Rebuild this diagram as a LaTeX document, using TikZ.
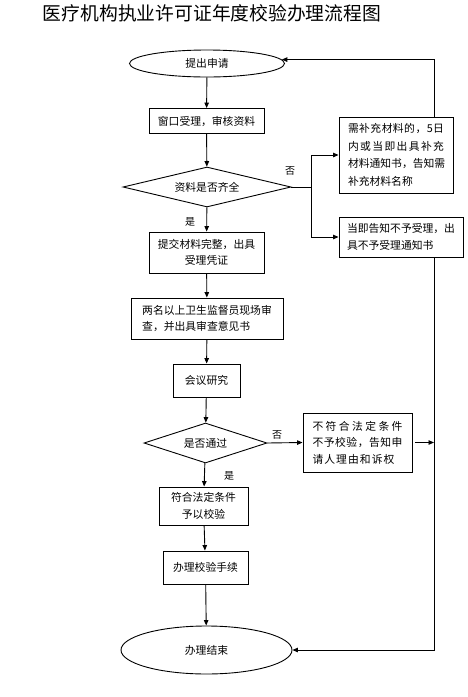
\documentclass[tikz,border=0pt]{standalone}
\usepackage{fontspec}
\setmainfont{Noto Sans CJK SC}
\usetikzlibrary{shapes.geometric,arrows.meta}
\newcommand\spreadline[2]{\makebox[#1][s]{\spreadfirst#2\relax}}
\def\spreadfirst#1{#1\spreadrest}
\def\spreadrest#1{\ifx#1\relax\else\hfil#1\expandafter\spreadrest\fi}
\begin{document}
\begin{tikzpicture}[x=1pt,y=-1pt,
  every node/.style={inner sep=0pt, font=\fontsize{10.8pt}{16.5pt}\selectfont},
  box/.style={draw, line width=0.9pt, rectangle},
  ell/.style={draw, line width=0.9pt, ellipse},
  dia/.style={draw, line width=0.9pt, diamond, aspect=3.5},
  lbl/.style={font=\fontsize{10pt}{10pt}\selectfont},
  link/.style={draw, line width=0.9pt},
  arr/.style={link, -{Triangle[length=5.5pt,width=4.5pt]}}
]
\useasboundingbox (0,0) rectangle (468,697);

\node[font=\fontsize{18.8pt}{19pt}\selectfont] (title) at (212,13) {医疗机构执业许可证年度校验办理流程图};

\node[ell, minimum width=155pt, minimum height=27pt] (start) at (207,63.5) {提出申请};
\node[box, minimum width=115pt, minimum height=25pt] (b1) at (206.5,121) {窗口受理，审核资料};
\node[dia, minimum width=168pt, minimum height=40pt] (d1) at (207,187) {资料是否齐全};
\node[box, minimum width=115pt, minimum height=41pt, align=center] (b2) at (206.5,252.5) {提交材料完整，出具\\受理凭证};
\node[box, minimum width=152pt, minimum height=41pt, align=left] (b3) at (207,318.5) {两名以上卫生监督员现场审\\查，并出具审查意见书};
\node[box, minimum width=67pt, minimum height=33pt] (b4) at (206.5,380.5) {会议研究};
\node[dia, minimum width=123pt, minimum height=40pt] (d2) at (205.5,443) {是否通过};
\node[box, minimum width=89pt, minimum height=38pt, align=center] (b5) at (203.5,506) {符合法定条件\\予以校验};
\node[box, minimum width=85pt, minimum height=33pt] (b6) at (205.5,567.5) {办理校验手续};
\node[ell, minimum width=171pt, minimum height=48pt] (end) at (206.5,650) {办理结束};

\node[box, minimum width=114pt, minimum height=76pt, align=left,
      font=\fontsize{10.8pt}{17.5pt}\selectfont] (need) at (396,155)
  {\spreadline{96pt}{需补充材料的，5日}\\\spreadline{96pt}{内或当即出具补充}\\\spreadline{96pt}{材料通知书，告知需}\\补充材料名称};
\node[box, minimum width=124pt, minimum height=40pt, align=left] (refuse) at (401,237)
  {当即告知不予受理，出\\具不予受理通知书};
\node[box, minimum width=109pt, minimum height=59pt, align=left] (fail) at (357.5,442.5)
  {\spreadline{90pt}{不符合法定条件}\\\spreadline{90pt}{不予校验，告知申}\\\spreadline{82pt}{请人理由和诉权}};

\coordinate (j1) at (311,187);
\coordinate (rx) at (434,0);

\draw[arr] (start) -- (b1);
\draw[arr] (b1) -- (d1);
\draw[arr] (d1) -- (b2);
\draw[arr] (b2) -- (b3);
\draw[arr] (b3) -- (b4);
\draw[arr] (b4) -- (d2);
\draw[arr] (d2) -- (b5);
\draw[arr] (b5) -- (b6);
\draw[arr] (b6) -- (end);

\draw[link] (d1.east) -- (j1);
\draw[arr] (j1) |- (need.west);
\draw[arr] (j1) |- (refuse.west);
\draw[arr] (d2.east) -- (fail.west);

\draw[arr] (need.north -| rx) -- (rx |- start.3) -- (start.3);
\draw[arr] (refuse.south -| rx) -- (rx |- end.east) -- (end.east);
\draw[arr] ([xshift=3pt]fail.east) -- (fail.east -| rx);

\node[lbl] (no1) at (290,171) {否};
\node[lbl] (yes1) at (190,222) {是};
\node[lbl] (no2) at (277,435) {否};
\node[lbl] (yes2) at (229,476) {是};
\end{tikzpicture}
\end{document}
